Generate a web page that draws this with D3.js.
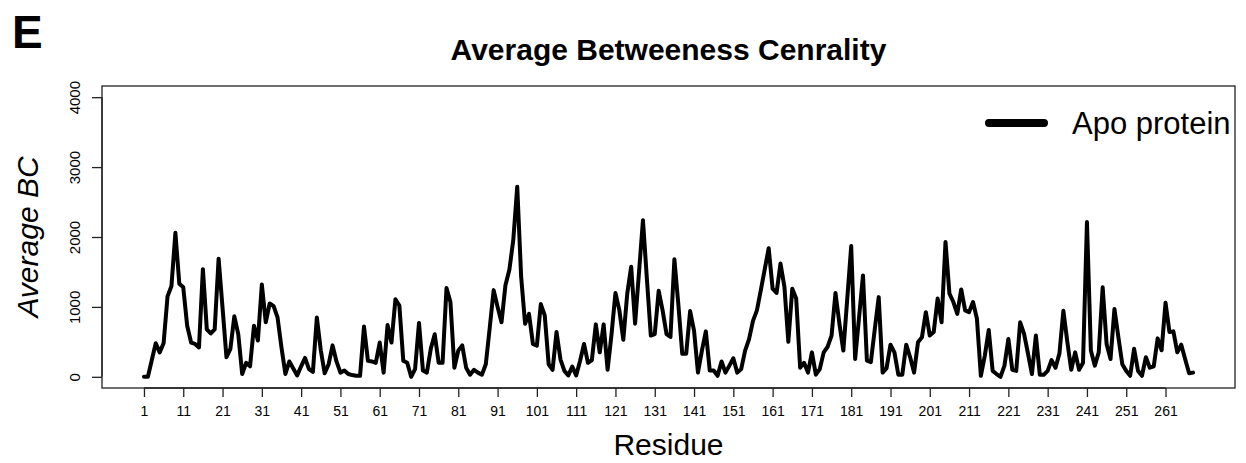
<!DOCTYPE html>
<html>
<head>
<meta charset="utf-8">
<script src="https://cdn.jsdelivr.net/npm/d3@7"></script>
<style>
  body { margin: 0; background: #fff; }
  svg text { font-family: "Liberation Sans", Arial, sans-serif; }
</style>
</head>
<body>
<div id="chart"></div>
<script>
// average betweenness centrality per residue (apo protein)
const bcValues = [
  0, 0, 240, 480, 350, 480, 1150, 1300, 2060, 1330,
  1280, 730, 490, 470, 420, 1540, 680, 620, 680, 1690,
  985, 280, 400, 865, 610, 40, 200, 150, 730, 520,
  1320, 780, 1050, 1010, 850, 420, 40, 220, 120, 20,
  150, 270, 110, 70, 850, 380, 50, 180, 450, 220,
  60, 90, 40, 25, 15, 15, 720, 230, 220, 200,
  490, 60, 740, 490, 1110, 1020, 230, 200, 0, 110,
  770, 90, 60, 400, 610, 200, 200, 1270, 1070, 130,
  375, 450, 130, 30, 100, 60, 30, 180, 700, 1240,
  1000, 780, 1310, 1530, 1960, 2720, 1430, 760, 900, 470,
  445, 1040, 880, 180, 100, 640, 250, 85, 20, 145,
  20, 230, 470, 200, 240, 750, 350, 750, 100, 610,
  1200, 950, 530, 1190, 1575, 760, 1500, 2240, 1400, 590,
  610, 1230, 950, 610, 570, 1680, 1040, 330, 330, 940,
  660, 60, 375, 650, 90, 90, 15, 220, 60, 160,
  265, 60, 110, 375, 540, 800, 950, 1240, 1540, 1840,
  1260, 1200, 1620, 1290, 500, 1260, 1120, 130, 200, 60,
  350, 30, 110, 350, 430, 590, 1200, 760, 375, 1120,
  1870, 255, 850, 1450, 230, 210, 680, 1140, 60, 125,
  460, 350, 30, 30, 460, 280, 60, 495, 565, 925,
  590, 640, 1120, 780, 1930, 1190, 1070, 900, 1250, 950,
  925, 1070, 830, 15, 300, 670, 85, 40, 0, 160,
  540, 100, 85, 780, 615, 330, 40, 590, 30, 30,
  85, 240, 130, 335, 945, 500, 100, 350, 100, 200,
  2215, 375, 160, 350, 1280, 470, 255, 970, 565, 180,
  85, 15, 400, 85, 15, 280, 130, 150, 550, 380,
  1060, 640, 650, 350, 460, 250, 50, 60
];
const residues = bcValues.map((v, i) => i + 1);
const xTicks = d3.range(1, 262, 10);
const yTicks = [0, 1000, 2000, 3000, 4000];
const seriesName = 'Apo protein';

const width = 1246;
const height = 463;
const box = { left: 102, right: 1235, top: 86, bottom: 388 };
const fontStack = '"Liberation Sans", Arial, sans-serif';

const svg = d3.select('#chart').append('svg')
    .attr('width', width)
    .attr('height', height);

// R style 4% padding around the data range
const n = residues.length;
const padX = 0.04 * (n - 1);
const x = d3.scaleLinear()
    .domain([1 - padX, n + padX])
    .range([box.left, box.right]);
const y = d3.scaleLinear()
    .domain([-160, 4160])
    .range([box.bottom, box.top]);

// panel letter + title
svg.append('text')
    .attr('x', 12).attr('y', 48)
    .attr('font-size', 46).attr('font-weight', 'bold')
    .text('E');
svg.append('text')
    .attr('x', (box.left + box.right) / 2).attr('y', 60)
    .attr('text-anchor', 'middle')
    .attr('font-size', 30).attr('font-weight', 'bold')
    .text('Average Betweeness Cenrality');

// plot box
svg.append('rect')
    .attr('x', box.left).attr('y', box.top)
    .attr('width', box.right - box.left).attr('height', box.bottom - box.top)
    .attr('fill', 'none').attr('stroke', '#222').attr('stroke-width', 1.3);

// x axis
const xAxis = d3.axisBottom(x).tickValues(xTicks).tickSize(9).tickPadding(9);
const gx = svg.append('g')
    .attr('transform', 'translate(0,' + box.bottom + ')')
    .call(xAxis);
gx.select('.domain').attr('stroke', '#222').attr('stroke-width', 1.3)
    .attr('d', 'M' + x(1) + ',0H' + x(261));
gx.selectAll('.tick line').attr('stroke', '#222').attr('stroke-width', 1.3);
gx.selectAll('.tick text').attr('font-size', 14).attr('fill', '#000')
    .style('font-family', fontStack);

// y axis, labels parallel to the axis
const yAxis = d3.axisLeft(y).tickValues(yTicks).tickFormat(d3.format('d'))
    .tickSize(10).tickPadding(0);
const gy = svg.append('g')
    .attr('transform', 'translate(' + box.left + ',0)')
    .call(yAxis);
gy.select('.domain').attr('stroke', '#222').attr('stroke-width', 1.3)
    .attr('d', 'M0,' + y(0) + 'V' + y(4000));
gy.selectAll('.tick line').attr('stroke', '#222').attr('stroke-width', 1.3);
gy.selectAll('.tick text')
    .attr('font-size', 15).attr('fill', '#000')
    .attr('x', 0).attr('dy', 0)
    .attr('text-anchor', 'middle')
    .attr('transform', 'translate(-22,0) rotate(-90)')
    .style('font-family', fontStack);

// axis titles
svg.append('text')
    .attr('x', (box.left + box.right) / 2).attr('y', 455)
    .attr('text-anchor', 'middle')
    .attr('font-size', 30)
    .text('Residue');
svg.append('text')
    .attr('transform', 'translate(38,' + ((box.top + box.bottom) / 2) + ') rotate(-90)')
    .attr('text-anchor', 'middle')
    .attr('font-size', 30).attr('font-style', 'italic')
    .text('Average BC');

// the series
const line = d3.line()
    .x((d, i) => x(residues[i]))
    .y(d => y(d));
svg.append('path')
    .datum(bcValues)
    .attr('d', line)
    .attr('fill', 'none')
    .attr('stroke', '#000')
    .attr('stroke-width', 4)
    .attr('stroke-linejoin', 'round')
    .attr('stroke-linecap', 'round');

// legend
const legend = svg.append('g');
legend.append('line')
    .attr('x1', 989).attr('x2', 1044)
    .attr('y1', 123).attr('y2', 123)
    .attr('stroke', '#000').attr('stroke-width', 8)
    .attr('stroke-linecap', 'round');
legend.append('text')
    .attr('x', 1072).attr('y', 134)
    .attr('font-size', 31)
    .text(seriesName);
</script>
</body>
</html>
